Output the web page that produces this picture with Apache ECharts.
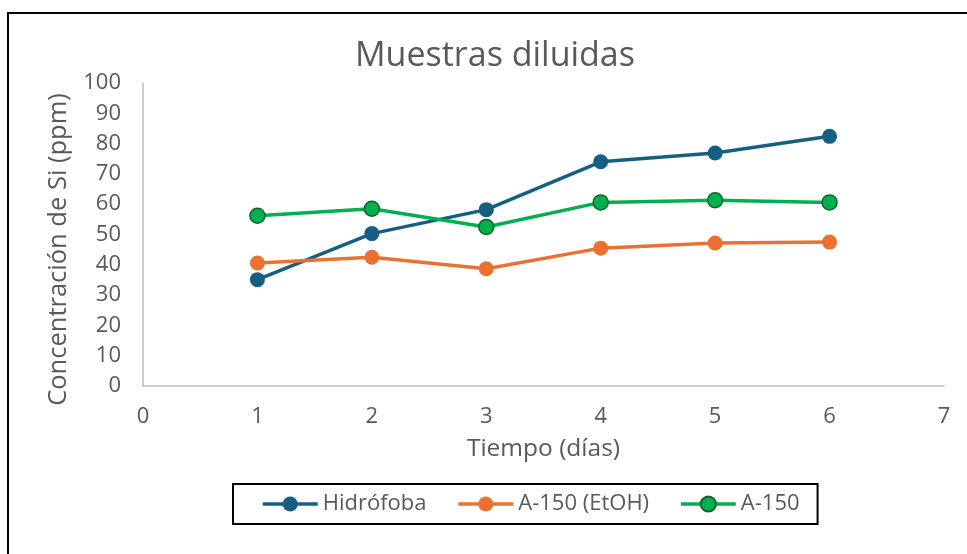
<!DOCTYPE html>
<html>
<head>
<meta charset="utf-8">
<script src="https://cdn.jsdelivr.net/npm/echarts@6/dist/echarts.min.js"></script>
<style>
html,body{margin:0;padding:0;background:#fff;}
#chart{width:967px;height:554px;}
</style>
</head>
<body>
<div id="chart"></div>
<script>
var days = [1, 2, 3, 4, 5, 6];
var hidrofoba = [35.1, 50.3, 58.2, 74.0, 76.9, 82.4];
var a150EtOH = [40.6, 42.5, 38.7, 45.5, 47.2, 47.5];
var a150 = [56.2, 58.5, 52.5, 60.6, 61.3, 60.6];
var seriesNames = ['Hidrófoba', 'A-150 (EtOH)', 'A-150'];

function pairs(vals) { return days.map(function (d, i) { return [d, vals[i]]; }); }

var FONT = '"Open Sans", sans-serif';
var TXT = '#595959';
var chart = echarts.init(document.getElementById('chart'), null, {renderer: 'canvas'});
chart.setOption({
  backgroundColor: '#fff',
  animation: false,
  title: {
    text: 'Muestras diluidas',
    left: 355, top: 39, padding: 0,
    textStyle: {fontFamily: FONT, fontSize: 34, fontWeight: 'normal', color: TXT}
  },
  graphic: [{
    type: 'rect', silent: true, z: 100,
    shape: {x: 8, y: 13, width: 1200, height: 1000},
    style: {fill: 'none', stroke: '#000', lineWidth: 2}
  }],
  legend: {
    data: seriesNames.map(function (n) { return {name: n, lineStyle: {width: 3.5}}; }),
    left: 233, top: 484,
    padding: [9, 18, 9, 28],
    borderColor: '#000', borderWidth: 2,
    itemWidth: 55, itemHeight: 19, itemGap: 30,
    lineStyle: {width: 'inherit'},
    textStyle: {fontFamily: FONT, fontSize: 22, color: TXT}
  },
  grid: {left: 143, right: 23, top: 83, bottom: 168, containLabel: false},
  xAxis: {
    type: 'value', min: 0, max: 7, interval: 1,
    name: 'Tiempo (días)', nameLocation: 'middle', nameGap: 51,
    nameTextStyle: {fontFamily: FONT, fontSize: 24.5, color: TXT},
    axisLine: {show: true, lineStyle: {color: '#BFBFBF', width: 1.5}},
    axisTick: {show: false},
    splitLine: {show: false},
    axisLabel: {fontFamily: FONT, fontSize: 22, color: TXT, margin: 20}
  },
  yAxis: {
    type: 'value', min: 0, max: 100, interval: 10,
    name: 'Concentración de Si (ppm)', nameLocation: 'middle', nameGap: 71,
    nameTextStyle: {fontFamily: FONT, fontSize: 25.5, color: TXT, padding: [0, 30, 0, 0]},
    axisLine: {show: true, lineStyle: {color: '#BFBFBF', width: 1.5}},
    axisTick: {show: false},
    splitLine: {show: false},
    axisLabel: {fontFamily: FONT, fontSize: 22, color: TXT, margin: 22}
  },
  series: [
    {
      name: seriesNames[0], type: 'line', data: pairs(hidrofoba),
      symbol: 'circle', symbolSize: 15,
      lineStyle: {color: '#156082', width: 3.5},
      itemStyle: {color: '#156082'}
    },
    {
      name: seriesNames[1], type: 'line', data: pairs(a150EtOH),
      symbol: 'circle', symbolSize: 15,
      lineStyle: {color: '#E97132', width: 3.5},
      itemStyle: {color: '#E97132'}
    },
    {
      name: seriesNames[2], type: 'line', data: pairs(a150),
      symbol: 'circle', symbolSize: 15,
      lineStyle: {color: '#00B050', width: 3.5},
      itemStyle: {color: '#00B050', borderColor: '#0E6127', borderWidth: 1.5}
    }
  ]
});
</script>
</body>
</html>
